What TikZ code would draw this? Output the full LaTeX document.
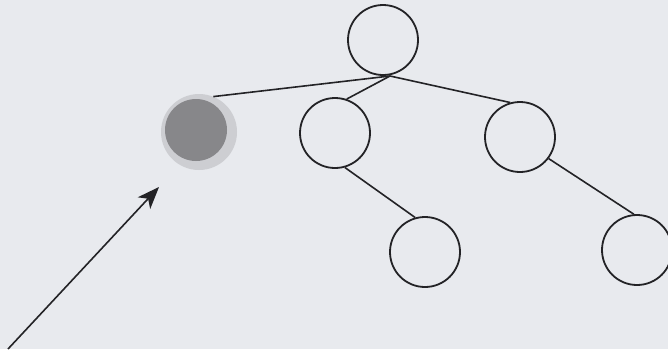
\documentclass[tikz,border=0pt]{standalone}
\usetikzlibrary{arrows.meta}
\definecolor{paper}{RGB}{232,234,238}
\definecolor{ink}{RGB}{35,35,38}
\definecolor{halo}{RGB}{205,206,210}
\definecolor{dot}{RGB}{135,135,138}
\tikzset{
  treenode/.style={circle, draw=ink, line width=1.8pt, minimum size=70pt, inner sep=0pt},
  edge/.style={draw=ink, line width=1.6pt},
}
\begin{document}
\begin{tikzpicture}[x=1pt,y=-1pt]
\fill[paper] (0,0) rectangle (668,349);
\useasboundingbox (0,0) rectangle (668,349);
% tree nodes
\node[treenode] (root) at (383,40) {};
\node[treenode] (ml) at (335,133) {};
\node[treenode] (mr) at (520,137) {};
\node[treenode] (bl) at (425,252) {};
\node[treenode] (br) at (637,250) {};
% gray disk with halo
\node[circle, fill=halo, minimum size=76pt, inner sep=0pt] (gh) at (199,132) {};
\node[circle, fill=dot, minimum size=62pt, inner sep=0pt] (g) at (196,130) {};
\coordinate (j) at (390,76);
\coordinate (tail) at (8,349);
% connectors
\draw[edge] (j) -- (gh.68);
\draw[edge] (j) -- (ml.71);
\draw[edge] (j) -- (mr.106);
\draw[edge] (ml.-74) -- (bl.106);
\draw[edge] (mr.-37) -- (br.95);
\draw[edge, -{Stealth[length=22pt, width=17pt, inset=6pt]}] (tail) -- (159,187);
\end{tikzpicture}
\end{document}
